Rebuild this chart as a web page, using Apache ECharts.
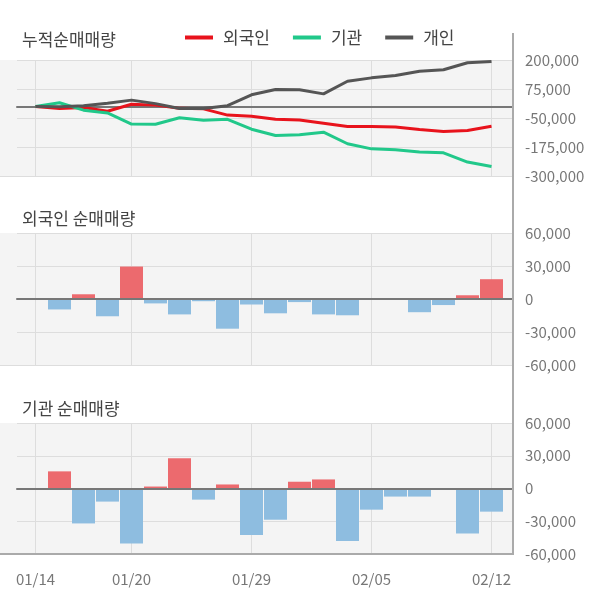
<!DOCTYPE html>
<html>
<head>
<meta charset="utf-8">
<script src="https://cdn.jsdelivr.net/npm/echarts@6/dist/echarts.min.js"></script>
<style>
html,body{margin:0;padding:0;background:#fff;}
#chart{width:600px;height:604px;}
</style>
</head>
<body>
<div id="chart"></div>
<script>
// ---- data ----
const dates = ['01/14','01/15','01/16','01/17','01/20','01/21','01/22','01/23','01/28','01/29','01/30','01/31','02/03','02/04','02/05','02/06','02/07','02/10','02/11','02/12'];
const shownDateIdx = [0, 4, 9, 14, 19];

// cumulative net purchases (top panel)
const cumForeign = [0, -9500, -5200, -20900, 9500, 5500, -8500, -10500, -37500, -42500, -55500, -58300, -72300, -87100, -87100, -89000, -100000, -108000, -104000, -86000];
const cumInst = [0, 15700, -16300, -28300, -76000, -76900, -49200, -59400, -55700, -98200, -125500, -122000, -111000, -161000, -183000, -187000, -197000, -200000, -240000, -259000];
const cumIndiv = [0, -1000, 3000, 14000, 27000, 12000, -9000, -9000, 3000, 50000, 72800, 71500, 54000, 108600, 123000, 133000, 151700, 157700, 188000, 193500];

// daily net purchases
const foreignNet = [0, -9500, 4300, -15700, 29500, -4000, -14000, -2000, -27000, -5000, -13000, -2800, -14000, -14800, 0, 0, -12000, -5500, 3400, 18000];
const instNet = [0, 15700, -32000, -12000, -50400, 1800, 27700, -10200, 3700, -42500, -28600, 6200, 8300, -48000, -19400, -7400, -7400, 0, -41200, -21200];

// axis ticks
const topTicks = [-300000, -175000, -50000, 75000, 200000];
const barTicks = [-60000, -30000, 0, 30000, 60000];

const titles = ['누적순매매량', '외국인 순매매량', '기관 순매매량'];
const legendNames = ['외국인', '기관', '개인'];

// ---- styles ----
const FONT = "'Noto Sans CJK KR', 'Noto Sans', sans-serif";
const colForeign = '#e8131c';
const colInst = '#21c88a';
const colIndiv = '#555555';
const colPos = '#ec6a6e';
const colNeg = '#8ebde0';

function fmt(v) {
  const s = Math.abs(Math.round(v)).toString().replace(/\B(?=(\d{3})+(?!\d))/g, ',');
  return (v < 0 ? '-' : '') + s;
}

const panels = [
  { top: 60, height: 116, min: topTicks[0], max: topTicks[topTicks.length - 1], interval: topTicks[1] - topTicks[0] },
  { top: 233, height: 132, min: barTicks[0], max: barTicks[barTicks.length - 1], interval: barTicks[1] - barTicks[0] },
  { top: 423, height: 131, min: barTicks[0], max: barTicks[barTicks.length - 1], interval: barTicks[1] - barTicks[0] }
];

const grid = [], xAxis = [], yAxis = [];
panels.forEach((p, i) => {
  // label axis: shift so that min is a multiple of interval
  const shift = (Math.ceil(p.min / p.interval) * p.interval) - p.min;
  grid.push({ left: 0, right: 87, top: p.top, height: p.height, show: true, backgroundColor: '#f4f4f4', borderWidth: 0 });
  grid.push({ left: 17, right: 87, top: p.top, height: p.height, show: false });
  grid.push({ left: 35.5, right: 108.5, top: p.top, height: p.height, show: false });

  const gA = 3 * i, gB = 3 * i + 1, gC = 3 * i + 2;
  const yBreal = 4 * i + 1;

  xAxis.push({
    gridIndex: gA, type: 'value', min: 0, max: 1, position: 'bottom',
    axisLine: { show: true, onZero: false, lineStyle: { color: i === 2 ? '#aaaaaa' : '#dddddd', width: i === 2 ? 2 : 1 } },
    axisTick: { show: false }, axisLabel: { show: false }, splitLine: { show: false }
  });
  xAxis.push({
    gridIndex: gB, type: 'value', min: 0, max: 1,
    axisLine: { show: true, onZero: true, onZeroAxisIndex: yBreal, lineStyle: { color: '#777777', width: 2 } },
    axisTick: { show: false }, axisLabel: { show: false }, splitLine: { show: false }, z: 3
  });
  xAxis.push({
    gridIndex: gC, type: 'category', data: dates, boundaryGap: false,
    axisLine: { show: false }, axisTick: { show: false },
    axisLabel: {
      show: i === 2, interval: (idx) => shownDateIdx.includes(idx),
      color: '#777777', fontSize: 15, fontFamily: FONT, margin: 18
    },
    splitLine: { show: true, interval: (idx) => shownDateIdx.includes(idx), lineStyle: { color: '#dddddd', width: 1 } }
  });

  yAxis.push({ gridIndex: gA, type: 'value', min: 0, max: 1, show: false });
  yAxis.push({
    gridIndex: gB, type: 'value', min: p.min, max: p.max, position: 'right',
    axisLine: { show: false }, axisTick: { show: false }, axisLabel: { show: false }, splitLine: { show: false }
  });
  yAxis.push({
    gridIndex: gB, type: 'value', min: p.min + shift, max: p.max + shift, interval: p.interval, position: 'right',
    axisLine: { show: false }, axisTick: { show: false },
    axisLabel: { formatter: (v) => fmt(v - shift), color: '#777777', fontSize: 15, fontFamily: FONT, margin: 12 },
    splitLine: { show: true, lineStyle: { color: '#dddddd', width: 1 } }
  });
  yAxis.push({ gridIndex: gC, type: 'value', min: p.min, max: p.max, show: false });
});

function barData(arr) {
  return arr.map(v => ({ value: v, itemStyle: { color: v >= 0 ? colPos : colNeg } }));
}

const lineCommon = { type: 'line', xAxisIndex: 2, yAxisIndex: 3, showSymbol: false, symbol: 'none', clip: false, z: 4 };

const series = [
  Object.assign({}, lineCommon, { name: legendNames[0], data: cumForeign, lineStyle: { color: colForeign, width: 3 }, itemStyle: { color: colForeign } }),
  Object.assign({}, lineCommon, { name: legendNames[1], data: cumInst, lineStyle: { color: colInst, width: 3 }, itemStyle: { color: colInst } }),
  Object.assign({}, lineCommon, { name: legendNames[2], data: cumIndiv, lineStyle: { color: colIndiv, width: 3 }, itemStyle: { color: colIndiv } }),
  { type: 'bar', name: 'foreignBar', xAxisIndex: 5, yAxisIndex: 7, data: barData(foreignNet), barWidth: 23, clip: false, z: 2 },
  { type: 'bar', name: 'instBar', xAxisIndex: 8, yAxisIndex: 11, data: barData(instNet), barWidth: 23, clip: false, z: 2 }
];

const option = {
  animation: false,
  backgroundColor: '#ffffff',
  textStyle: { fontFamily: FONT },
  title: [
    { text: titles[0], left: 22, top: 31, padding: 0, textStyle: { fontSize: 17, fontWeight: 'normal', color: '#444444', fontFamily: FONT } },
    { text: titles[1], left: 22, top: 210, padding: 0, textStyle: { fontSize: 17, fontWeight: 'normal', color: '#444444', fontFamily: FONT } },
    { text: titles[2], left: 22, top: 400, padding: 0, textStyle: { fontSize: 17, fontWeight: 'normal', color: '#444444', fontFamily: FONT } }
  ],
  legend: {
    data: legendNames, left: 185, top: 29, padding: 0,
    icon: 'rect', itemWidth: 28, itemHeight: 4, itemGap: 23,
    textStyle: { fontSize: 17, color: '#444444', fontFamily: FONT, padding: [0, 0, 0, 5] }
  },
  grid, xAxis, yAxis, series,
  graphic: [
    { type: 'line', shape: { x1: 513, y1: 33, x2: 513, y2: 555 }, style: { stroke: '#aaaaaa', lineWidth: 2 }, z: 10 }
  ]
};

const chart = echarts.init(document.getElementById('chart'), null, { renderer: 'canvas' });
chart.setOption(option);
</script>
</body>
</html>
